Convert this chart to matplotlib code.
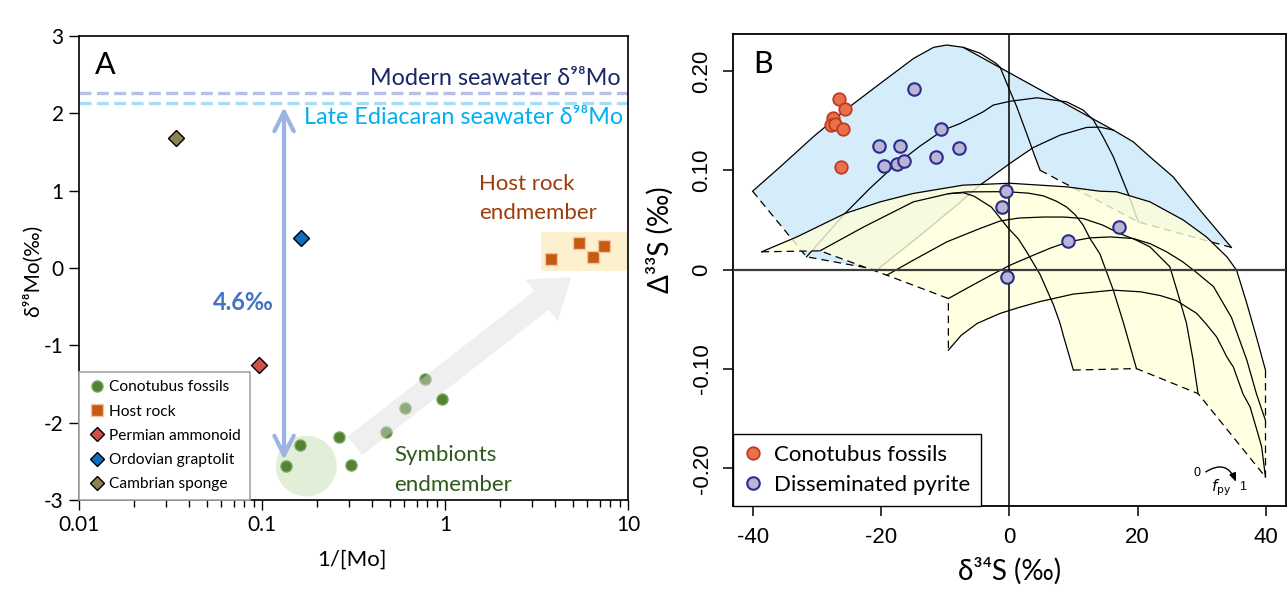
import matplotlib
matplotlib.use('Agg')
import matplotlib.pyplot as plt
from matplotlib.patches import Ellipse, Rectangle, Polygon
from matplotlib.lines import Line2D

SANS = ['Lato', 'Noto Sans', 'DejaVu Sans']
ARIAL = ['Liberation Sans', 'DejaVu Sans']
plt.rcParams['font.family'] = SANS

# ---------------- Panel A data ----------------
cono_inv_mo = [0.135, 0.161, 0.264, 0.306, 0.477, 0.604, 0.778, 0.964]
cono_d98 = [-2.56, -2.29, -2.19, -2.55, -2.12, -1.81, -1.44, -1.69]
host_inv_mo = [3.8, 5.4, 6.4, 7.4]
host_d98 = [0.12, 0.32, 0.14, 0.28]
permian_inv_mo, permian_d98 = [0.096], [-1.25]
ordov_inv_mo, ordov_d98 = [0.163], [0.39]
cambr_inv_mo, cambr_d98 = [0.034], [1.68]
modern_sw = 2.26
ediacaran_sw = 2.13
a_xticks = [0.01, 0.1, 1, 10]
a_xticklabels = ['0.01', '0.1', '1', '10']
a_yticks = [-3, -2, -1, 0, 1, 2, 3]
a_yticklabels = ['-3', '-2', '-1', '0', '1', '2', '3']

# ---------------- Panel B data ----------------
cono_d34 = [-26.6, -25.6, -27.5, -27.8, -27.1, -25.9, -26.2]
cono_D33 = [0.172, 0.162, 0.153, 0.146, 0.147, 0.142, 0.103]
pyr_d34 = [-14.8, -20.3, -17.0, -10.6, -7.9, -11.5, -19.5, -17.5, -16.4, -0.5, -1.2, 9.2, 17.1, -0.4]
pyr_D33 = [0.182, 0.124, 0.124, 0.142, 0.122, 0.113, 0.104, 0.106, 0.109, 0.079, 0.063, 0.029, 0.043, -0.007]
b_xticks = [-40, -20, 0, 20, 40]
b_xticklabels = ['-40', '-20', '0', '20', '40']
b_yticks = [-0.2, -0.1, 0, 0.1, 0.2]
b_yticklabels = ['-0.20', '-0.10', '0', '0.10', '0.20']

# blue model surface curves
A1_x = [-40.0, -35.7, -30.5, -25.3, -20.1, -14.9, -11.8, -9.75, -7.2, -4.6, -2.1, -1.45, -0.4, 1.15, 2.7, 4.0, 4.8]
A1_y = [0.079, 0.1035, 0.134, 0.162, 0.1875, 0.2127, 0.2238, 0.2261, 0.2238, 0.218, 0.2077, 0.204, 0.1875, 0.164, 0.137, 0.1136, 0.100]
A2_x = [-31.6, -25.6, -21.7, -18.1, -14.0, -10.3, -7.7, -4.05, -2.5, 0.1, 4.3, 8.9, 11.5, 13.1, 14.6, 16.2, 18.5, 20.1]
A2_y = [0.013, 0.0566, 0.082, 0.1035, 0.124, 0.1405, 0.147, 0.159, 0.1657, 0.1695, 0.173, 0.169, 0.1606, 0.1506, 0.1337, 0.1136, 0.0767, 0.048]
A3_x = [-20.6, -14.0, -8.0, -4.6, 0.1, 3.74, 7.9, 12.06, 14.1, 16.2, 19.3, 21.9, 25.5, 29.7, 34.6]
A3_y = [0.0, 0.034, 0.066, 0.085, 0.107, 0.123, 0.1354, 0.1432, 0.1435, 0.1405, 0.1287, 0.1136, 0.0935, 0.060, 0.0224]
AS_x = [-7.2, 16.2]
AS_y = [0.2238, 0.1405]

# yellow model surface curves
C1_x = [-38.6, -33.1, -25.6, -20.1, -15.0, -7.2, 0.1, 8.9, 14.1, 16.7, 21.9, 27.1, 30.7, 33.9, 35.4, 37.0, 38.5, 39.9]
C1_y = [0.018, 0.033, 0.0566, 0.0683, 0.0767, 0.0851, 0.0870, 0.0834, 0.079, 0.0784, 0.0683, 0.050, 0.033, 0.0129, -0.0005, -0.034, -0.068, -0.101]
C2_x = [-29.5, -22.7, -14.95, -11.8, -9.5, -7.2, -5.5, -2.8, -0.2, 1.4, 2.7, 4.8, 6.85, 7.9, 8.4, 9.97]
C2_y = [0.019, 0.043, 0.0683, 0.073, 0.0765, 0.0775, 0.074, 0.063, 0.042, 0.031, 0.018, -0.005, -0.035, -0.054, -0.066, -0.101]
G_x = [-9.5, -6.6, -2.0, 0.1, 3.0, 5.3, 7.3, 8.9, 10.3, 11.5, 12.6, 14.1, 16.2, 17.8, 19.8]
G_y = [0.0765, 0.0783, 0.0785, 0.0783, 0.077, 0.0743, 0.069, 0.0632, 0.055, 0.0448, 0.031, 0.016, -0.0206, -0.054, -0.0995]
C3_x = [-19.1, -14.95, -9.75, -4.56, -1.45, 1.5, 5.3, 8.5, 11.5, 14.5, 17.2, 19.8, 21.9, 25.0, 26.1, 27.6, 28.6, 29.4]
C3_y = [-0.0055, 0.0096, 0.028, 0.0415, 0.049, 0.052, 0.053, 0.053, 0.0515, 0.045, 0.0364, 0.0297, 0.023, 0.003, -0.0206, -0.054, -0.09, -0.1247]
C4_x = [-9.5, -6.0, -3.0, 0.1, 3.74, 6.5, 9.2, 12.5, 15.7, 19.3, 22.0, 24.5, 27.0, 29.0, 31.8, 34.6, 37.0, 38.5, 39.9]
C4_y = [-0.029, -0.0165, -0.006, 0.0045, 0.0146, 0.022, 0.028, 0.032, 0.033, 0.0314, 0.026, 0.018, 0.008, -0.002, -0.017, -0.048, -0.091, -0.125, -0.1516]
C5_x = [-9.5, -7.5, -5.0, -1.45, 1.5, 4.8, 10.0, 16.2, 20.4, 23.5, 26.0, 29.2, 30.7, 32.3, 33.9, 34.9, 36.4, 37.5, 38.5, 39.3, 39.9]
C5_y = [-0.081, -0.066, -0.054, -0.044, -0.038, -0.032, -0.0245, -0.0206, -0.0222, -0.026, -0.031, -0.044, -0.055, -0.0677, -0.088, -0.098, -0.125, -0.138, -0.160, -0.178, -0.2086]

# ---------------- Figure ----------------
fig = plt.figure(figsize=(12.88, 5.91), dpi=100)
W, H = 1288.0, 591.0
axA = fig.add_axes([79 / W, 1 - 500 / H, (628 - 79) / W, (500 - 36) / H])
axB = fig.add_axes([732.7 / W, 1 - 506 / H, (1286 - 732.7) / W, (506 - 34) / H])

# ===== Panel A =====
axA.set_xscale('log')
axA.set_xlim(0.01, 10)
axA.set_ylim(-3, 3)
axA.set_xticks(a_xticks)
axA.set_xticklabels(a_xticklabels)
axA.set_yticks(a_yticks)
axA.set_yticklabels(a_yticklabels)
axA.tick_params(which='major', direction='out', length=7, width=1, labelsize=15, pad=4)
axA.tick_params(which='minor', direction='out', length=5, width=1)
for s in axA.spines.values():
    s.set_linewidth(1.2)

# host-rock highlight
axA.add_patch(Rectangle((3.35, -0.04), 10 - 3.35, 0.51, facecolor='#fdf0cf', edgecolor='none', zorder=1))
# symbiont ellipse
axA.add_patch(Ellipse((0.414, 0.073), 0.111, 0.131, transform=axA.transAxes,
                      facecolor='#e2efd8', edgecolor='none', zorder=1))

axA.axhline(modern_sw, color='#b7c0e6', lw=2.4, ls=(0, (3.6, 1.6)), zorder=2)
axA.axhline(ediacaran_sw, color='#a6def3', lw=2.4, ls=(0, (3.6, 1.6)), zorder=2)

axA.annotate('', xy=(0.132, 2.08), xytext=(0.132, -2.48),
             arrowprops=dict(arrowstyle='<->,head_length=0.7,head_width=0.35', mutation_scale=20,
                             color='#9db4e2', lw=3, shrinkA=0, shrinkB=0), zorder=3)

axA.plot(cono_inv_mo, cono_d98, ls='', marker='o', ms=8, mfc='#548235', mec='#78a85a', mew=1, zorder=4)
axA.plot(host_inv_mo, host_d98, ls='', marker='s', ms=8.5, mfc='#c55a11', mec='#f2c49e', mew=1, zorder=4)
axA.plot(permian_inv_mo, permian_d98, ls='', marker='D', ms=8.5, mfc='#d0504c', mec='black', mew=1, zorder=4)
axA.plot(ordov_inv_mo, ordov_d98, ls='', marker='D', ms=8.5, mfc='#0a6fc0', mec='black', mew=1, zorder=4)
axA.plot(cambr_inv_mo, cambr_d98, ls='', marker='D', ms=8.5, mfc='#8c8452', mec='black', mew=1, zorder=4)

axA.annotate('', xy=(4.9, -0.12), xytext=(0.322, -2.30),
             arrowprops=dict(arrowstyle='simple,head_length=1.5,head_width=2.1,tail_width=0.95',
                             mutation_scale=18, fc='#dcdcdc', ec='none', alpha=0.45,
                             shrinkA=0, shrinkB=0), zorder=5)

axA.text(0.029, 0.9375, 'A', transform=axA.transAxes, fontsize=22, va='center', ha='left', color='black')
axA.text(0.987, 0.909, 'Modern seawater δ⁹⁸Mo', transform=axA.transAxes, fontsize=16.8,
         va='center', ha='right', color='#1a2766')
axA.text(0.41, 0.825, 'Late Ediacaran seawater δ⁹⁸Mo', transform=axA.transAxes, fontsize=16.8,
         va='center', ha='left', color='#00b0f0')
axA.text(0.299, 0.4246, '4.6‰', transform=axA.transAxes, fontsize=17, fontweight='bold',
         va='center', ha='center', color='#4472c4')
axA.text(0.7286, 0.681, 'Host rock', transform=axA.transAxes, fontsize=16, va='center', ha='left', color='#9e3b0c')
axA.text(0.7286, 0.6185, 'endmember', transform=axA.transAxes, fontsize=16, va='center', ha='left', color='#9e3b0c')
axA.text(0.574, 0.097, 'Symbionts', transform=axA.transAxes, fontsize=16, va='center', ha='left', color='#2d5a1b')
axA.text(0.574, 0.0323, 'endmember', transform=axA.transAxes, fontsize=16, va='center', ha='left', color='#2d5a1b')

hA = [
    Line2D([], [], ls='', marker='o', ms=8, mfc='#548235', mec='#78a85a', mew=1),
    Line2D([], [], ls='', marker='s', ms=8, mfc='#c55a11', mec='#f2c49e', mew=1),
    Line2D([], [], ls='', marker='D', ms=7, mfc='#d0504c', mec='black', mew=1),
    Line2D([], [], ls='', marker='D', ms=7, mfc='#0a6fc0', mec='black', mew=1),
    Line2D([], [], ls='', marker='D', ms=7, mfc='#8c8452', mec='black', mew=1),
]
labA = ['Conotubus fossils', 'Host rock', 'Permian ammonoid', 'Ordovian graptolit', 'Cambrian sponge']
legA = axA.legend(hA, labA, loc='lower left', bbox_to_anchor=(0, 0), borderaxespad=0, fancybox=False,
                  edgecolor='#a6a6a6', framealpha=1, fontsize=11.2, handlelength=1.2, handletextpad=0.2,
                  labelspacing=0.66, borderpad=0.55)
legA.get_frame().set_linewidth(1.2)
legA.set_zorder(6)

fig.text(352 / W, 1 - 560 / H, '1/[Mo]', fontsize=16, ha='center', va='center')
fig.text(33 / W, 1 - 271 / H, 'δ⁹⁸Mo(‰)', fontsize=15, ha='center', va='center', rotation=90)

# ===== Panel B =====
axB.set_xlim(-43.1, 43.1)
axB.set_ylim(-0.2378, 0.2372)
axB.set_xticks(b_xticks)
axB.set_xticklabels(b_xticklabels)
axB.set_yticks(b_yticks)
axB.set_yticklabels(b_yticklabels, rotation=90, va='center')
axB.tick_params(direction='out', length=7.5, width=1.1, labelsize=16)
axB.tick_params(axis='x', pad=7.5)
axB.tick_params(axis='y', pad=7)
for lab in axB.get_xticklabels() + axB.get_yticklabels():
    lab.set_fontfamily(ARIAL)
for s in axB.spines.values():
    s.set_linewidth(1.3)

# blue surface fill
bx = A1_x[:9] + A3_x[9:] + [A2_x[-1]] + A1_x[16:14:-1] + A3_x[5::-1] + [A2_x[0]]
by = A1_y[:9] + A3_y[9:] + [A2_y[-1]] + A1_y[16:14:-1] + A3_y[5::-1] + [A2_y[0]]
axB.add_patch(Polygon(list(zip(bx, by)), closed=True, facecolor='#d5edfb', edgecolor='none', zorder=1))
for cx, cy in [(A1_x, A1_y), (A2_x, A2_y), (A3_x, A3_y), (AS_x, AS_y)]:
    axB.plot(cx, cy, color='black', lw=0.9, zorder=2)
axB.plot([A1_x[0], A2_x[0], A3_x[0]], [A1_y[0], A2_y[0], A3_y[0]], color='black', lw=0.9,
         ls=(0, (6, 4)), zorder=2)
axB.plot([A1_x[-1], A2_x[-1], A3_x[-1]], [A1_y[-1], A2_y[-1], A3_y[-1]], color='black', lw=0.9,
         ls=(0, (6, 4)), zorder=2)

# yellow surface fill
yx = C1_x + [C4_x[-1], C5_x[-1], C3_x[-1], G_x[-1]] + C2_x[:11:-1] + C5_x[5::-1] + [C4_x[0], C3_x[0], C2_x[0]]
yy = C1_y + [C4_y[-1], C5_y[-1], C3_y[-1], G_y[-1]] + C2_y[:11:-1] + C5_y[5::-1] + [C4_y[0], C3_y[0], C2_y[0]]
axB.add_patch(Polygon(list(zip(yx, yy)), closed=True, facecolor='#ffffda', alpha=0.8, edgecolor='none', zorder=3))
for cx, cy in [(C1_x, C1_y), (C2_x, C2_y), (G_x, G_y), (C3_x, C3_y), (C4_x, C4_y), (C5_x, C5_y)]:
    axB.plot(cx, cy, color='black', lw=0.9, zorder=4)
axB.plot([C1_x[0], C2_x[0], C3_x[0], C4_x[0], C5_x[0]], [C1_y[0], C2_y[0], C3_y[0], C4_y[0], C5_y[0]],
         color='black', lw=0.9, ls=(0, (6, 4)), zorder=4)
axB.plot([C2_x[-1], G_x[-1], C3_x[-1], C5_x[-1]], [C2_y[-1], G_y[-1], C3_y[-1], C5_y[-1]],
         color='black', lw=0.9, ls=(0, (6, 4)), zorder=4)
axB.plot([C1_x[-1], C4_x[-1], C5_x[-1]], [C1_y[-1], C4_y[-1], C5_y[-1]],
         color='black', lw=0.9, ls=(0, (6, 4)), zorder=4)

axB.axhline(0, color='#3c3c3c', lw=1.6, zorder=5)
axB.axvline(0, color='black', lw=1.1, zorder=5)

axB.plot(cono_d34, cono_D33, ls='', marker='o', ms=9, mfc='#e8714a', mec='#c23a22', mew=1.3, zorder=6)
axB.plot(pyr_d34, pyr_D33, ls='', marker='o', ms=9, mfc='#b9b6d3', mec='#2c2c8c', mew=1.5, zorder=6)

axB.text(0.037, 0.936, 'B', transform=axB.transAxes, fontsize=22, va='center', ha='left')

# fpy annotation
axB.text(29.2, -0.205, '0', fontsize=9, ha='center', va='center', family=ARIAL, zorder=7)
axB.text(33.0, -0.219, r'$f_{\mathrm{py}}$', fontsize=11, ha='center', va='center', zorder=7)
axB.text(36.3, -0.219, '1', fontsize=9, ha='center', va='center', family=ARIAL, zorder=7)
axB.annotate('', xy=(35.3, -0.2135), xytext=(30.6, -0.2035),
             arrowprops=dict(arrowstyle='-|>,head_length=0.5,head_width=0.2', connectionstyle='arc3,rad=-0.6',
                             color='black', lw=1, shrinkA=0, shrinkB=0), zorder=7)

hB = [Line2D([], [], ls='', marker='o', ms=9, mfc='#e8714a', mec='#c23a22', mew=1.3),
      Line2D([], [], ls='', marker='o', ms=9, mfc='#b9b6d3', mec='#2c2c8c', mew=1.5)]
legB = axB.legend(hB, ['Conotubus fossils', 'Disseminated pyrite'], loc='lower left', bbox_to_anchor=(0, 0),
                  borderaxespad=0, fancybox=False, edgecolor='black', framealpha=1, fontsize=16,
                  handlelength=0.8, handletextpad=0.55, labelspacing=0.45, borderpad=0.5)
legB.get_frame().set_linewidth(1.0)
legB.set_zorder(8)

fig.text(1010 / W, 1 - 571 / H, 'δ³⁴S (‰)', fontsize=20, ha='center', va='center')
fig.text(660 / W, 1 - 240 / H, 'Δ³³S (‰)', fontsize=20, ha='center', va='center', rotation=90)

fig.savefig('out.png', dpi=100)
